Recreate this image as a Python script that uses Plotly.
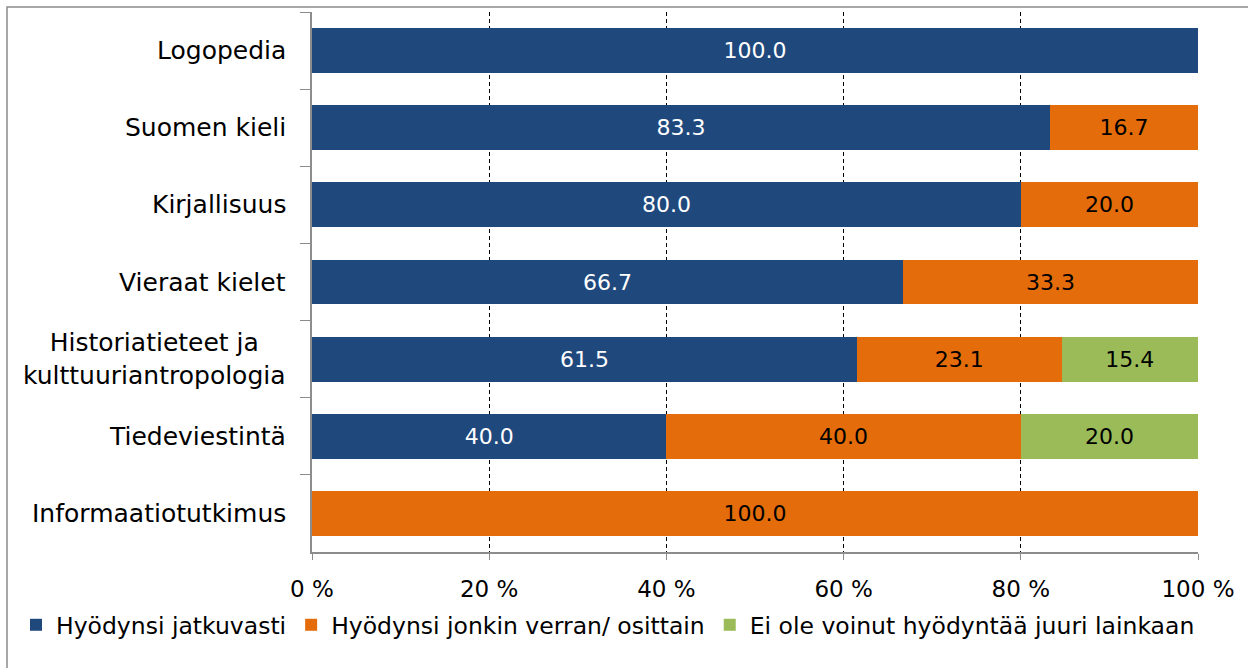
import plotly.graph_objects as go

categories = ["Logopedia", "Suomen kieli", "Kirjallisuus", "Vieraat kielet",
              "Historiatieteet ja<br>kulttuuriantropologia", "Tiedeviestintä",
              "Informaatiotutkimus"]
series_names = ["Hyödynsi jatkuvasti", "Hyödynsi jonkin verran/ osittain",
                "Ei ole voinut hyödyntää juuri lainkaan"]
jatkuvasti = [100.0, 83.3, 80.0, 66.7, 61.5, 40.0, 0.0]
osittain = [0.0, 16.7, 20.0, 33.3, 23.1, 40.0, 100.0]
ei_lainkaan = [0.0, 0.0, 0.0, 0.0, 15.4, 20.0, 0.0]
x_tickvals = [0, 20, 40, 60, 80, 100]
x_ticktext = ["0 %", "20 %", "40 %", "60 %", "80 %", "100 %"]

colors = ["#1F497D", "#E46C0A", "#9BBB59"]
text_colors = ["white", "black", "black"]
FONT = "DejaVu Sans"

W, H = 1248, 668
L, R, T, B = 312, 50, 12, 116
pw, ph = W - L - R, H - T - B

fig = go.Figure()
for name, vals, c, tc in zip(series_names, [jatkuvasti, osittain, ei_lainkaan], colors, text_colors):
    fig.add_trace(go.Bar(
        y=categories, x=vals, name=name, orientation="h",
        marker=dict(color=c, line=dict(width=0)),
        text=[f"{v:.1f}" if v else "" for v in vals],
        textposition="inside", insidetextanchor="middle",
        textfont=dict(color=tc, size=22, family=FONT),
        constraintext="none",
    ))

for cat in categories:
    fig.add_annotation(x=-24 / pw, xref="paper", y=cat, yref="y", text=cat,
                       showarrow=False, xanchor="right", align="center",
                       font=dict(size=25, family=FONT, color="black"))

# outer border of the chart area
fig.add_shape(type="rect", xref="paper", yref="paper",
              x0=(7 - L) / pw, x1=(W + 10 - L) / pw,
              y0=-(H + 10 - T - ph) / ph, y1=1 + (T - 7) / ph,
              line=dict(color="#8C8C8C", width=1.5), layer="below")

fig.update_layout(
    width=W, height=H,
    margin=dict(l=L, r=R, t=T, b=B),
    barmode="stack", bargap=0.42,
    plot_bgcolor="white", paper_bgcolor="white",
    font=dict(family=FONT, size=22, color="black"),
    xaxis=dict(range=[0, 100], tickvals=x_tickvals, ticktext=x_ticktext,
               showgrid=True, gridcolor="black", griddash="4px,3px", gridwidth=1.2,
               zeroline=False, showline=True, linecolor="#8C8C8C", linewidth=1.5,
               ticks="outside", ticklen=6, tickcolor="#8C8C8C",
               tickfont=dict(size=23, family=FONT), ticklabelstandoff=10),
    yaxis=dict(categoryorder="array", categoryarray=categories, autorange="reversed",
               showticklabels=False, showline=True, linecolor="#8C8C8C", linewidth=1.5,
               ticks="outside", ticklen=10, tickcolor="#8C8C8C", tickson="boundaries",
               showgrid=False, zeroline=False),
    legend=dict(orientation="h", x=(16 - L) / pw, xanchor="left",
                y=-(625 - T - ph) / ph, yanchor="middle",
                font=dict(size=23.5, family=FONT), itemwidth=30,
                bgcolor="rgba(0,0,0,0)",
                traceorder="normal", tracegroupgap=0),
    showlegend=True,
)

fig.write_html("out.html", config={"displayModeBar": False},
               post_script="document.body.style.margin='0';")
